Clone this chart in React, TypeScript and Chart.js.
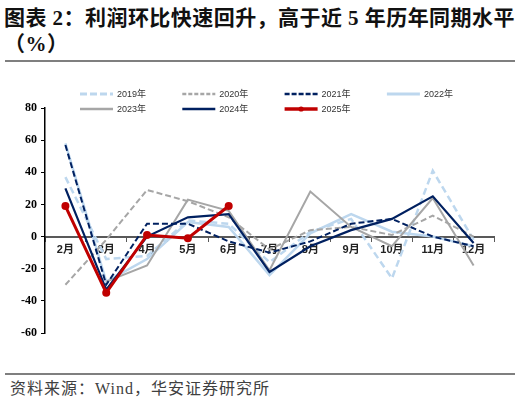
import React, { useEffect, useRef } from 'react';
import { Chart, registerables } from 'chart.js';

Chart.register(...registerables);

const categories = ['2月', '3月', '4月', '5月', '6月', '7月', '8月', '9月', '10月', '11月', '12月'];
const seriesNames = ['2019年', '2020年', '2021年', '2022年', '2023年', '2024年', '2025年'];
const v2019 = [37, -14, -12, 10, 8, -16, 3, 11, -26, 41, -2];
const v2020 = [-30, -2, 29, 22, 12, -8, 4, 6, 1, 13, 0];
const v2021 = [57, -30, 8, 8, -3, -10, -3, 8, 11, 0, -6];
const v2022 = [58, -28, -14, 9, 6, -24, 2, 14, 3, 0, -6];
const v2023 = [null, -28, -18, 23, 16, -21, 28, 6, -6, 24, -18];
const v2024 = [30, -33, 0, 12, 14, -22, -6, 4, 11, 25, -4];
const v2025 = [19, -35, 1, -1, 19, null, null, null, null, null, null];
const yMin = -60;
const yMax = 80;
const yStep = 20;

const gridLegend = {
  id: 'gridLegend',
  afterDraw(chart: any) {
    const ctx = chart.ctx;
    ctx.save();
    chart.data.datasets.forEach((ds: any, i: number) => {
      const col = i % 4;
      const row = Math.floor(i / 4);
      const x = 80 + col * 102.3;
      const y = 30 + row * 15;
      ctx.beginPath();
      ctx.setLineDash(ds.legendDash || []);
      ctx.strokeStyle = ds.borderColor;
      ctx.lineWidth = ds.borderWidth + 0.5;
      ctx.moveTo(x, y);
      ctx.lineTo(x + 33, y);
      ctx.stroke();
      ctx.setLineDash([]);
      if (ds.pointRadius > 0) {
        ctx.beginPath();
        ctx.fillStyle = ds.pointBackgroundColor;
        ctx.arc(x + 16.5, y, 2.6, 0, Math.PI * 2);
        ctx.fill();
      }
      ctx.fillStyle = '#333';
      ctx.font = '9px "Liberation Sans", "Noto Sans CJK SC", sans-serif';
      ctx.textBaseline = 'middle';
      ctx.textAlign = 'left';
      ctx.fillText(ds.label, x + 37, y + 0.5);
    });
    ctx.restore();
  },
};

export default function App() {
  const ref = useRef<HTMLCanvasElement>(null);

  useEffect(() => {
    if (!ref.current) return;
    const lightBlue = '#BDD7EE';
    const gray = '#A6A6A6';
    const navy = '#002060';
    const red = '#C00000';
    const base = { pointRadius: 0, pointHoverRadius: 0, tension: 0, fill: false, spanGaps: false };
    const chart = new Chart(ref.current, {
      type: 'line',
      data: {
        labels: categories,
        datasets: [
          { ...base, label: seriesNames[0], data: v2019, borderColor: lightBlue, borderWidth: 2.5, borderDash: [7, 4], legendDash: [7, 3], order: 6 },
          { ...base, label: seriesNames[1], data: v2020, borderColor: gray, borderWidth: 2, borderDash: [6, 3], legendDash: [4, 2], order: 4 },
          { ...base, label: seriesNames[2], data: v2021, borderColor: navy, borderWidth: 2, borderDash: [6, 3], legendDash: [5, 2], order: 2 },
          { ...base, label: seriesNames[3], data: v2022, borderColor: lightBlue, borderWidth: 2.5, order: 5 },
          { ...base, label: seriesNames[4], data: v2023, borderColor: gray, borderWidth: 2, order: 3 },
          { ...base, label: seriesNames[5], data: v2024, borderColor: navy, borderWidth: 2.2, order: 1 },
          {
            ...base,
            label: seriesNames[6],
            data: v2025,
            borderColor: red,
            borderWidth: 3,
            pointRadius: 4,
            pointBackgroundColor: red,
            pointBorderColor: red,
            pointBorderWidth: 0,
            order: 0,
          },
        ] as any,
      },
      options: {
        animation: false,
        responsive: false,
        maintainAspectRatio: false,
        layout: { padding: { left: 8, right: 26, top: 44, bottom: 37 } },
        plugins: { legend: { display: false }, tooltip: { enabled: false } },
        scales: {
          x: {
            type: 'category',
            position: { y: 0 } as any,
            offset: true,
            grid: { offset: true, drawOnChartArea: false, drawTicks: true, tickLength: 4, color: '#595959', lineWidth: 1 },
            border: { display: true, color: '#595959', width: 2 },
            ticks: {
              autoSkip: false,
              maxRotation: 0,
              padding: 3,
              color: '#222',
              font: { family: '"Liberation Sans", "Noto Sans CJK SC", sans-serif', size: 11, weight: 'bold' },
            },
          },
          y: {
            min: yMin,
            max: yMax,
            afterFit: (s: any) => {
              s.width = 37;
            },
            ticks: {
              stepSize: yStep,
              padding: 4,
              color: '#000',
              font: { family: '"Liberation Serif", serif', size: 12, weight: 'bold' },
            },
            grid: { drawOnChartArea: false, drawTicks: true, tickLength: 4, color: '#000', lineWidth: 1 },
            border: { display: true, color: '#000', width: 1.5 },
          },
        },
      },
      plugins: [gridLegend],
    });
    return () => chart.destroy();
  }, []);

  return (
    <div style={{ position: 'absolute', left: 0, top: 0, width: 520, height: 405, background: '#fff', overflow: 'hidden' }}>
      <div
        style={{
          position: 'absolute',
          left: 4,
          top: 5,
          width: 515,
          fontFamily: '"Liberation Serif", "Noto Sans CJK SC", serif',
          fontWeight: 'bold',
          fontSize: 21,
          lineHeight: '26px',
          color: '#111',
          letterSpacing: 0.45,
          whiteSpace: 'nowrap',
        }}
      >
        <div>图表 2：利润环比快速回升，高于近 5 年历年同期水平</div>
        <div>（%）</div>
      </div>
      <div style={{ position: 'absolute', left: 5, top: 60, width: 510, height: 2, background: '#7f7f7f' }} />
      <canvas ref={ref} width={520} height={306} style={{ position: 'absolute', left: 0, top: 64, width: 520, height: 306 }} />
      <div style={{ position: 'absolute', left: 5, top: 373, width: 510, height: 2, background: '#7f7f7f' }} />
      <div
        style={{
          position: 'absolute',
          left: 10,
          top: 379,
          fontFamily: '"Liberation Serif", "Noto Sans CJK SC", serif',
          fontSize: 16,
          lineHeight: '20px',
          color: '#404040',
          letterSpacing: 1,
          whiteSpace: 'nowrap',
        }}
      >
        资料来源：Wind，华安证券研究所
      </div>
    </div>
  );
}
